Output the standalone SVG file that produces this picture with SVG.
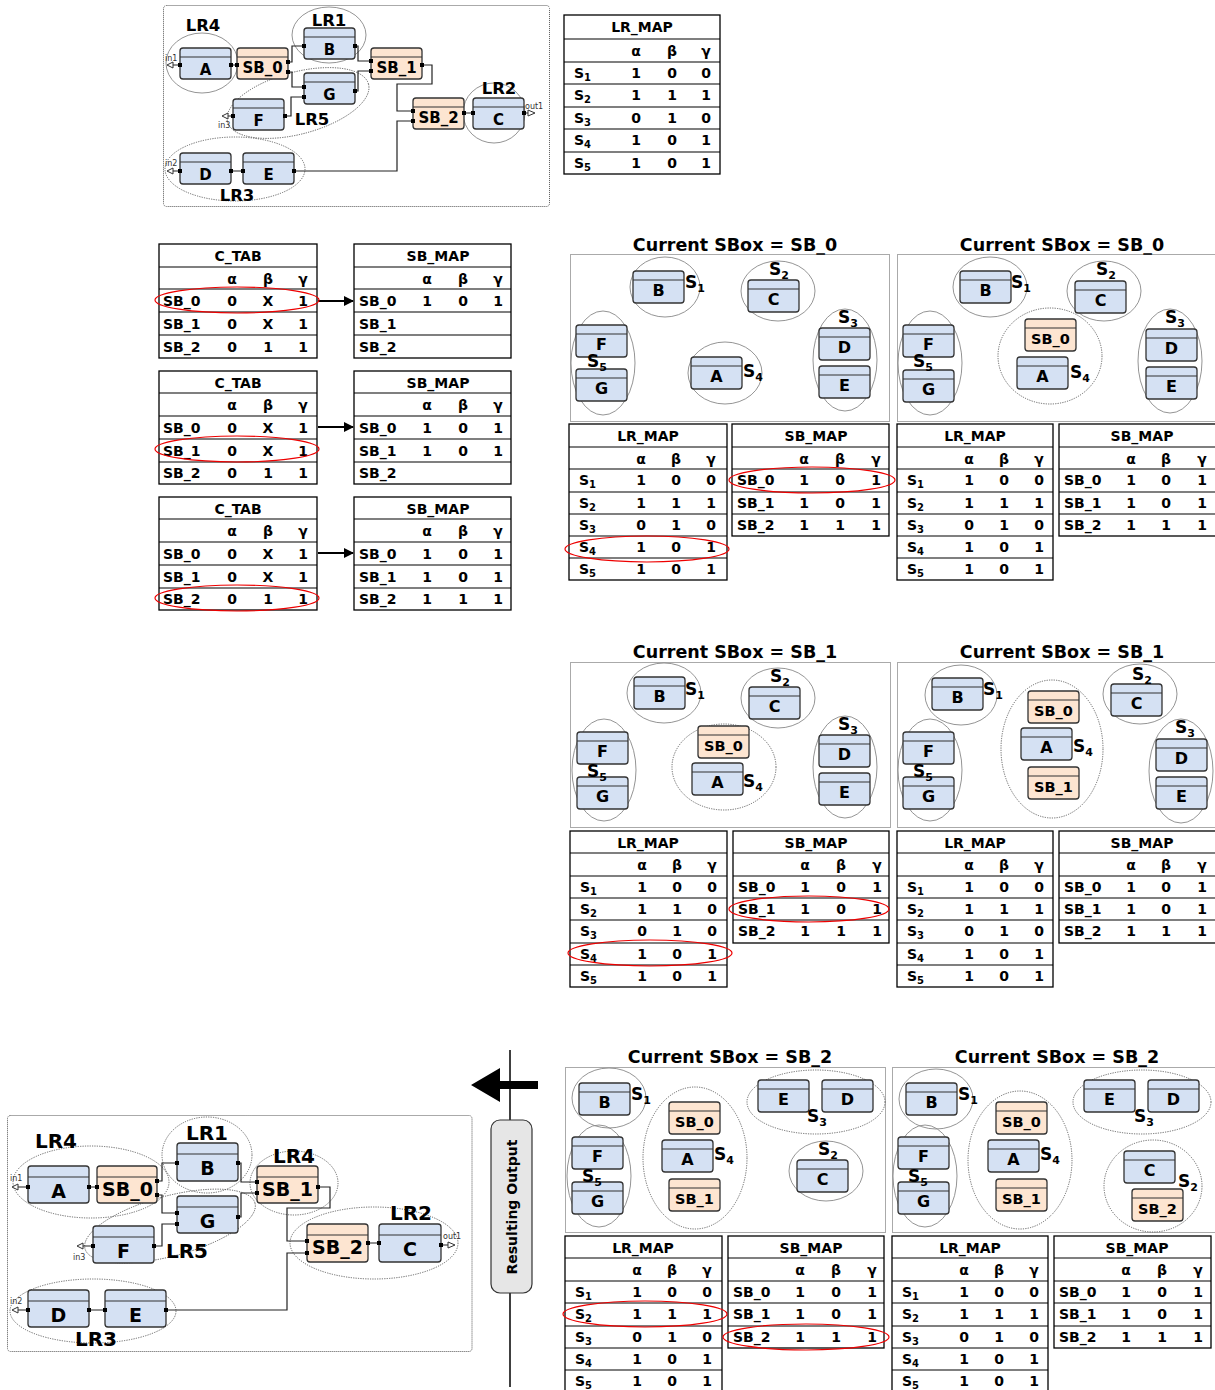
<svg xmlns="http://www.w3.org/2000/svg" width="1215" height="1390" viewBox="0 0 1215 1390">
<style>
text{font-family:"DejaVu Sans","Liberation Sans",sans-serif;font-weight:bold;fill:#000}
.tt{font-size:14px;text-anchor:middle}
.tc{font-size:14px;text-anchor:middle}
.ts{font-size:14px}
.sub{font-size:10px}
.ptl{font-size:17.5px;text-anchor:middle}
.sl{font-size:17px}
.slb{font-size:11px}
.nl{font-size:16px;text-anchor:middle}
.nls{font-size:14.5px;text-anchor:middle}
.nt{font-size:15px;text-anchor:middle}
.nbig{font-size:19px;text-anchor:middle}
.lr{font-size:16.5px;text-anchor:middle}
.lrb{font-size:20px;text-anchor:middle}
.tb{fill:#fff;stroke:#000;stroke-width:1.3}
.tl{fill:none;stroke:#000;stroke-width:1.1}
.nb{fill:#d5e1f3;stroke:#333;stroke-width:1.3}
.no{fill:#fde5d1;stroke:#333;stroke-width:1.3}
.hl{stroke:#333;stroke-width:1.2}
.el{fill:none;stroke:#888;stroke-width:0.9}
.eld{fill:none;stroke:#555;stroke-width:0.9;stroke-dasharray:1.2 1.2}
.red{fill:none;stroke:#e00;stroke-width:1.2}
.fr{fill:none;stroke:#555;stroke-width:1;stroke-dasharray:1 1}
.w{fill:none;stroke:#222;stroke-width:1.2}
.pp{fill:#000}
.io{fill:#fff;stroke:#333;stroke-width:1}
.iot{font-size:8px;font-weight:normal;fill:#333}
.arr{stroke:#000;stroke-width:2;fill:none}
</style>
<defs>
<marker id="ah" markerWidth="10" markerHeight="10" refX="9" refY="5" orient="auto" markerUnits="userSpaceOnUse"><path d="M0,0 L10,5 L0,10 z" fill="#000"/></marker>
</defs>

<!-- ================= TOP CIRCUIT ================= -->
<g id="top-circuit">
<rect class="fr" x="163.5" y="5.5" width="386" height="201" rx="3"/>
<ellipse class="el" cx="202" cy="63" rx="36" ry="30"/>
<ellipse class="el" cx="329" cy="35" rx="37" ry="28"/>
<ellipse class="eld" cx="298" cy="103" rx="73" ry="31" transform="rotate(-15 298 103)"/>
<ellipse class="el" cx="494" cy="113" rx="31" ry="30"/>
<ellipse class="eld" cx="235" cy="169" rx="70" ry="32"/>
<g id="top-connectors">
<path class="w" d="M231 65 H237 M288 62 H292 V46 H304 M288 72 H292 V87 H304 M285 116 H291 V97 H304 M355 46 H358 V61 H371 M355 91 H358 V71 H371 M422 65 H432 V84 H397 V111 H413 M295 171 H397 V121 H413 M464 113 H473 M231 171 H243 M180 65 H173 M233 116 H228 M180 171 H173 M524 113 H528"/>
<polygon class="io" points="173,62 173,68 167,65"/>
<polygon class="io" points="228,113 228,119 222,116"/>
<polygon class="io" points="173,168 173,174 167,171"/>
<polygon class="io" points="528,110 528,116 535,113"/>
<text class="iot" x="165" y="61">in1</text>
<text class="iot" x="218" y="128">in3</text>
<text class="iot" x="165" y="166">in2</text>
<text class="iot" x="525" y="109">out1</text>
</g>
<g id="t-A"><rect class="nb" x="180" y="48" width="51" height="31" rx="3"/><line class="hl" x1="180" y1="57" x2="231" y2="57"/><text class="nt" x="205.5" y="75">A</text></g>
<g id="t-SB0"><rect class="no" x="237" y="48" width="51" height="31" rx="3"/><line class="hl" x1="237" y1="57" x2="288" y2="57"/><text class="nt" x="262.5" y="73">SB_0</text></g>
<g id="t-B"><rect class="nb" x="304" y="28" width="51" height="31" rx="3"/><line class="hl" x1="304" y1="37" x2="355" y2="37"/><text class="nt" x="329.5" y="55">B</text></g>
<g id="t-G"><rect class="nb" x="304" y="73" width="51" height="31" rx="3"/><line class="hl" x1="304" y1="82" x2="355" y2="82"/><text class="nt" x="329.5" y="100">G</text></g>
<g id="t-SB1"><rect class="no" x="371" y="48" width="51" height="31" rx="3"/><line class="hl" x1="371" y1="57" x2="422" y2="57"/><text class="nt" x="396.5" y="73">SB_1</text></g>
<g id="t-F"><rect class="nb" x="233" y="99" width="51" height="31" rx="3"/><line class="hl" x1="233" y1="108" x2="284" y2="108"/><text class="nt" x="258.5" y="126">F</text></g>
<g id="t-SB2"><rect class="no" x="413" y="98" width="51" height="31" rx="3"/><line class="hl" x1="413" y1="107" x2="464" y2="107"/><text class="nt" x="438.5" y="123">SB_2</text></g>
<g id="t-C"><rect class="nb" x="473" y="98" width="51" height="31" rx="3"/><line class="hl" x1="473" y1="107" x2="524" y2="107"/><text class="nt" x="498.5" y="125">C</text></g>
<g id="t-D"><rect class="nb" x="180" y="153" width="51" height="31" rx="3"/><line class="hl" x1="180" y1="162" x2="231" y2="162"/><text class="nt" x="205.5" y="180">D</text></g>
<g id="t-E"><rect class="nb" x="243" y="153" width="51" height="31" rx="3"/><line class="hl" x1="243" y1="162" x2="294" y2="162"/><text class="nt" x="268.5" y="180">E</text></g>
<g id="t-ports">
<rect class="pp" x="178" y="63" width="4" height="4"/><rect class="pp" x="229" y="63" width="4" height="4"/><rect class="pp" x="235" y="63" width="4" height="4"/>
<rect class="pp" x="286" y="60" width="4" height="4"/><rect class="pp" x="286" y="70" width="4" height="4"/>
<rect class="pp" x="302" y="44" width="4" height="4"/><rect class="pp" x="353" y="44" width="4" height="4"/>
<rect class="pp" x="302" y="85" width="4" height="4"/><rect class="pp" x="302" y="95" width="4" height="4"/><rect class="pp" x="353" y="89" width="4" height="4"/>
<rect class="pp" x="231" y="114" width="4" height="4"/><rect class="pp" x="283" y="114" width="4" height="4"/>
<rect class="pp" x="369" y="59" width="4" height="4"/><rect class="pp" x="369" y="69" width="4" height="4"/><rect class="pp" x="420" y="63" width="4" height="4"/>
<rect class="pp" x="411" y="109" width="4" height="4"/><rect class="pp" x="411" y="119" width="4" height="4"/><rect class="pp" x="462" y="111" width="4" height="4"/>
<rect class="pp" x="471" y="111" width="4" height="4"/><rect class="pp" x="522" y="111" width="4" height="4"/>
<rect class="pp" x="178" y="169" width="4" height="4"/><rect class="pp" x="229" y="169" width="4" height="4"/><rect class="pp" x="241" y="169" width="4" height="4"/><rect class="pp" x="292" y="169" width="4" height="4"/>
</g>
<text class="lr" x="203" y="31">LR4</text>
<text class="lr" x="329" y="26">LR1</text>
<text class="lr" x="312" y="125">LR5</text>
<text class="lr" x="499" y="94">LR2</text>
<text class="lr" x="237" y="201">LR3</text>
</g>

<!-- ================= TOP LR_MAP ================= -->
<g id="top-lrmap">
<rect class="tb" x="564" y="15" width="156" height="159"/>
<path class="tl" d="M564 39 H720 M564 62 H720 M564 84 H720 M564 107 H720 M564 129 H720 M564 152 H720"/>
<text class="tt" x="642" y="32">LR_MAP</text>
<text class="tc" x="636" y="56">α</text><text class="tc" x="672" y="56">β</text><text class="tc" x="706" y="56">γ</text>
<text class="ts" x="574" y="78">S<tspan class="sub" dy="3">1</tspan></text><text class="tc" x="636" y="78">1</text><text class="tc" x="672" y="78">0</text><text class="tc" x="706" y="78">0</text>
<text class="ts" x="574" y="100">S<tspan class="sub" dy="3">2</tspan></text><text class="tc" x="636" y="100">1</text><text class="tc" x="672" y="100">1</text><text class="tc" x="706" y="100">1</text>
<text class="ts" x="574" y="123">S<tspan class="sub" dy="3">3</tspan></text><text class="tc" x="636" y="123">0</text><text class="tc" x="672" y="123">1</text><text class="tc" x="706" y="123">0</text>
<text class="ts" x="574" y="145">S<tspan class="sub" dy="3">4</tspan></text><text class="tc" x="636" y="145">1</text><text class="tc" x="672" y="145">0</text><text class="tc" x="706" y="145">1</text>
<text class="ts" x="574" y="168">S<tspan class="sub" dy="3">5</tspan></text><text class="tc" x="636" y="168">1</text><text class="tc" x="672" y="168">0</text><text class="tc" x="706" y="168">1</text>
</g>

<!-- ================= C_TAB / SB_MAP ================= -->
<g id="ctab1">
<rect class="tb" x="159" y="244" width="158" height="114"/>
<path class="tl" d="M159 267 H317 M159 289 H317 M159 312 H317 M159 335 H317"/>
<text class="tt" x="238" y="261">C_TAB</text>
<text class="tc" x="232" y="284">α</text><text class="tc" x="268" y="284">β</text><text class="tc" x="303" y="284">γ</text>
<text class="ts" x="163" y="306">SB_0</text><text class="tc" x="232" y="306">0</text><text class="tc" x="268" y="306">X</text><text class="tc" x="303" y="306">1</text>
<text class="ts" x="163" y="329">SB_1</text><text class="tc" x="232" y="329">0</text><text class="tc" x="268" y="329">X</text><text class="tc" x="303" y="329">1</text>
<text class="ts" x="163" y="352">SB_2</text><text class="tc" x="232" y="352">0</text><text class="tc" x="268" y="352">1</text><text class="tc" x="303" y="352">1</text>
</g>
<g id="sbmap1">
<rect class="tb" x="354" y="244" width="157" height="114"/>
<path class="tl" d="M354 267 H511 M354 289 H511 M354 312 H511 M354 335 H511"/>
<text class="tt" x="438" y="261">SB_MAP</text>
<text class="tc" x="427" y="284">α</text><text class="tc" x="463" y="284">β</text><text class="tc" x="498" y="284">γ</text>
<text class="ts" x="359" y="306">SB_0</text><text class="tc" x="427" y="306">1</text><text class="tc" x="463" y="306">0</text><text class="tc" x="498" y="306">1</text>
<text class="ts" x="359" y="329">SB_1</text>
<text class="ts" x="359" y="352">SB_2</text>
</g>
<g id="ctab2">
<rect class="tb" x="159" y="371" width="158" height="113"/>
<path class="tl" d="M159 393 H317 M159 416 H317 M159 439 H317 M159 462 H317"/>
<text class="tt" x="238" y="388">C_TAB</text>
<text class="tc" x="232" y="410">α</text><text class="tc" x="268" y="410">β</text><text class="tc" x="303" y="410">γ</text>
<text class="ts" x="163" y="433">SB_0</text><text class="tc" x="232" y="433">0</text><text class="tc" x="268" y="433">X</text><text class="tc" x="303" y="433">1</text>
<text class="ts" x="163" y="456">SB_1</text><text class="tc" x="232" y="456">0</text><text class="tc" x="268" y="456">X</text><text class="tc" x="303" y="456">1</text>
<text class="ts" x="163" y="478">SB_2</text><text class="tc" x="232" y="478">0</text><text class="tc" x="268" y="478">1</text><text class="tc" x="303" y="478">1</text>
</g>
<g id="sbmap2">
<rect class="tb" x="354" y="371" width="157" height="113"/>
<path class="tl" d="M354 393 H511 M354 416 H511 M354 439 H511 M354 462 H511"/>
<text class="tt" x="438" y="388">SB_MAP</text>
<text class="tc" x="427" y="410">α</text><text class="tc" x="463" y="410">β</text><text class="tc" x="498" y="410">γ</text>
<text class="ts" x="359" y="433">SB_0</text><text class="tc" x="427" y="433">1</text><text class="tc" x="463" y="433">0</text><text class="tc" x="498" y="433">1</text>
<text class="ts" x="359" y="456">SB_1</text><text class="tc" x="427" y="456">1</text><text class="tc" x="463" y="456">0</text><text class="tc" x="498" y="456">1</text>
<text class="ts" x="359" y="478">SB_2</text>
</g>
<g id="ctab3">
<rect class="tb" x="159" y="497" width="158" height="113"/>
<path class="tl" d="M159 519 H317 M159 542 H317 M159 565 H317 M159 588 H317"/>
<text class="tt" x="238" y="514">C_TAB</text>
<text class="tc" x="232" y="536">α</text><text class="tc" x="268" y="536">β</text><text class="tc" x="303" y="536">γ</text>
<text class="ts" x="163" y="559">SB_0</text><text class="tc" x="232" y="559">0</text><text class="tc" x="268" y="559">X</text><text class="tc" x="303" y="559">1</text>
<text class="ts" x="163" y="582">SB_1</text><text class="tc" x="232" y="582">0</text><text class="tc" x="268" y="582">X</text><text class="tc" x="303" y="582">1</text>
<text class="ts" x="163" y="604">SB_2</text><text class="tc" x="232" y="604">0</text><text class="tc" x="268" y="604">1</text><text class="tc" x="303" y="604">1</text>
</g>
<g id="sbmap3">
<rect class="tb" x="354" y="497" width="157" height="113"/>
<path class="tl" d="M354 519 H511 M354 542 H511 M354 565 H511 M354 588 H511"/>
<text class="tt" x="438" y="514">SB_MAP</text>
<text class="tc" x="427" y="536">α</text><text class="tc" x="463" y="536">β</text><text class="tc" x="498" y="536">γ</text>
<text class="ts" x="359" y="559">SB_0</text><text class="tc" x="427" y="559">1</text><text class="tc" x="463" y="559">0</text><text class="tc" x="498" y="559">1</text>
<text class="ts" x="359" y="582">SB_1</text><text class="tc" x="427" y="582">1</text><text class="tc" x="463" y="582">0</text><text class="tc" x="498" y="582">1</text>
<text class="ts" x="359" y="604">SB_2</text><text class="tc" x="427" y="604">1</text><text class="tc" x="463" y="604">1</text><text class="tc" x="498" y="604">1</text>
</g>
<g id="ctab-connectors">
<line class="arr" x1="318" y1="301" x2="353" y2="301" marker-end="url(#ah)"/>
<line class="arr" x1="318" y1="427" x2="353" y2="427" marker-end="url(#ah)"/>
<line class="arr" x1="318" y1="553" x2="353" y2="553" marker-end="url(#ah)"/>
</g>
<ellipse class="red" cx="237" cy="300" rx="82" ry="13"/>
<ellipse class="red" cx="237" cy="449" rx="82" ry="13"/>
<ellipse class="red" cx="237" cy="598" rx="82" ry="13"/>

<!-- ================= PANEL 1 ================= -->
<g id="panel1">
<text class="ptl" x="735" y="251">Current SBox = SB_0</text>
<rect class="fr" x="570.5" y="254.5" width="319" height="167"/>
<ellipse class="el" cx="665" cy="287" rx="35" ry="30"/>
<ellipse class="el" cx="778" cy="291" rx="37" ry="30"/>
<ellipse class="el" cx="845" cy="360" rx="32" ry="51"/>
<ellipse class="el" cx="603" cy="363" rx="32" ry="52"/>
<ellipse class="el" cx="725" cy="373" rx="37" ry="31"/>
<g id="p1-B"><rect class="nb" x="633" y="271" width="51" height="32" rx="3"/><line class="hl" x1="633" y1="280" x2="684" y2="280"/><text class="nl" x="658.5" y="296">B</text></g>
<g id="p1-C"><rect class="nb" x="748" y="280" width="51" height="32" rx="3"/><line class="hl" x1="748" y1="289" x2="799" y2="289"/><text class="nl" x="773.5" y="305">C</text></g>
<g id="p1-D"><rect class="nb" x="819" y="328" width="51" height="32" rx="3"/><line class="hl" x1="819" y1="337" x2="870" y2="337"/><text class="nl" x="844.5" y="353">D</text></g>
<g id="p1-E"><rect class="nb" x="819" y="366" width="51" height="32" rx="3"/><line class="hl" x1="819" y1="375" x2="870" y2="375"/><text class="nl" x="844.5" y="391">E</text></g>
<g id="p1-F"><rect class="nb" x="576" y="325" width="51" height="32" rx="3"/><line class="hl" x1="576" y1="334" x2="627" y2="334"/><text class="nl" x="601.5" y="350">F</text></g>
<g id="p1-G"><rect class="nb" x="576" y="369" width="51" height="32" rx="3"/><line class="hl" x1="576" y1="378" x2="627" y2="378"/><text class="nl" x="601.5" y="394">G</text></g>
<g id="p1-A"><rect class="nb" x="691" y="357" width="51" height="32" rx="3"/><line class="hl" x1="691" y1="366" x2="742" y2="366"/><text class="nl" x="716.5" y="382">A</text></g>
<text class="sl" x="685" y="288">S<tspan class="slb" dy="4">1</tspan></text>
<text class="sl" x="769" y="275">S<tspan class="slb" dy="4">2</tspan></text>
<text class="sl" x="838" y="323">S<tspan class="slb" dy="4">3</tspan></text>
<text class="sl" x="743" y="377">S<tspan class="slb" dy="4">4</tspan></text>
<text class="sl" x="587" y="367">S<tspan class="slb" dy="4">5</tspan></text>
<g id="p1-lrmap">
<rect class="tb" x="569" y="424" width="158" height="156"/>
<path class="tl" d="M569 447 H727 M569 469 H727 M569 492 H727 M569 514 H727 M569 536 H727 M569 558 H727"/>
<text class="tt" x="648" y="441">LR_MAP</text>
<text class="tc" x="641" y="464">α</text><text class="tc" x="676" y="464">β</text><text class="tc" x="711" y="464">γ</text>
<text class="ts" x="579" y="485">S<tspan class="sub" dy="3">1</tspan></text><text class="tc" x="641" y="485">1</text><text class="tc" x="676" y="485">0</text><text class="tc" x="711" y="485">0</text>
<text class="ts" x="579" y="508">S<tspan class="sub" dy="3">2</tspan></text><text class="tc" x="641" y="508">1</text><text class="tc" x="676" y="508">1</text><text class="tc" x="711" y="508">1</text>
<text class="ts" x="579" y="530">S<tspan class="sub" dy="3">3</tspan></text><text class="tc" x="641" y="530">0</text><text class="tc" x="676" y="530">1</text><text class="tc" x="711" y="530">0</text>
<text class="ts" x="579" y="552">S<tspan class="sub" dy="3">4</tspan></text><text class="tc" x="641" y="552">1</text><text class="tc" x="676" y="552">0</text><text class="tc" x="711" y="552">1</text>
<text class="ts" x="579" y="574">S<tspan class="sub" dy="3">5</tspan></text><text class="tc" x="641" y="574">1</text><text class="tc" x="676" y="574">0</text><text class="tc" x="711" y="574">1</text>
</g>
<g id="p1-sbmap">
<rect class="tb" x="732" y="424" width="157" height="112"/>
<path class="tl" d="M732 447 H889 M732 469 H889 M732 492 H889 M732 514 H889"/>
<text class="tt" x="816" y="441">SB_MAP</text>
<text class="tc" x="804" y="464">α</text><text class="tc" x="840" y="464">β</text><text class="tc" x="876" y="464">γ</text>
<text class="ts" x="737" y="485">SB_0</text><text class="tc" x="804" y="485">1</text><text class="tc" x="840" y="485">0</text><text class="tc" x="876" y="485">1</text>
<text class="ts" x="737" y="508">SB_1</text><text class="tc" x="804" y="508">1</text><text class="tc" x="840" y="508">0</text><text class="tc" x="876" y="508">1</text>
<text class="ts" x="737" y="530">SB_2</text><text class="tc" x="804" y="530">1</text><text class="tc" x="840" y="530">1</text><text class="tc" x="876" y="530">1</text>
</g>
<ellipse class="red" cx="647" cy="549" rx="82" ry="13"/>
<ellipse class="red" cx="812" cy="480" rx="83" ry="13"/>
</g>

<!-- ================= PANEL 2 ================= -->
<g id="panel2">
<text class="ptl" x="1062" y="251">Current SBox = SB_0</text>
<rect class="fr" x="897.5" y="254.5" width="330" height="167"/>
<ellipse class="el" cx="990" cy="287" rx="37" ry="30"/>
<ellipse class="el" cx="1104" cy="291" rx="37" ry="30"/>
<ellipse class="eld" cx="1050" cy="356" rx="52" ry="48"/>
<ellipse class="el" cx="1170" cy="361" rx="32" ry="52"/>
<ellipse class="el" cx="930" cy="363" rx="32" ry="52"/>
<g id="p2-B"><rect class="nb" x="960" y="271" width="51" height="32" rx="3"/><line class="hl" x1="960" y1="280" x2="1011" y2="280"/><text class="nl" x="985.5" y="296">B</text></g>
<g id="p2-C"><rect class="nb" x="1075" y="281" width="51" height="32" rx="3"/><line class="hl" x1="1075" y1="290" x2="1126" y2="290"/><text class="nl" x="1100.5" y="306">C</text></g>
<g id="p2-SB0"><rect class="no" x="1025" y="319" width="51" height="32" rx="3"/><line class="hl" x1="1025" y1="328" x2="1076" y2="328"/><text class="nls" x="1050.5" y="344">SB_0</text></g>
<g id="p2-A"><rect class="nb" x="1017" y="357" width="51" height="32" rx="3"/><line class="hl" x1="1017" y1="366" x2="1068" y2="366"/><text class="nl" x="1042.5" y="382">A</text></g>
<g id="p2-D"><rect class="nb" x="1146" y="329" width="51" height="32" rx="3"/><line class="hl" x1="1146" y1="338" x2="1197" y2="338"/><text class="nl" x="1171.5" y="354">D</text></g>
<g id="p2-E"><rect class="nb" x="1146" y="367" width="51" height="32" rx="3"/><line class="hl" x1="1146" y1="376" x2="1197" y2="376"/><text class="nl" x="1171.5" y="392">E</text></g>
<g id="p2-F"><rect class="nb" x="903" y="325" width="51" height="32" rx="3"/><line class="hl" x1="903" y1="334" x2="954" y2="334"/><text class="nl" x="928.5" y="350">F</text></g>
<g id="p2-G"><rect class="nb" x="903" y="370" width="51" height="32" rx="3"/><line class="hl" x1="903" y1="379" x2="954" y2="379"/><text class="nl" x="928.5" y="395">G</text></g>
<text class="sl" x="1011" y="288">S<tspan class="slb" dy="4">1</tspan></text>
<text class="sl" x="1096" y="275">S<tspan class="slb" dy="4">2</tspan></text>
<text class="sl" x="1165" y="323">S<tspan class="slb" dy="4">3</tspan></text>
<text class="sl" x="1070" y="378">S<tspan class="slb" dy="4">4</tspan></text>
<text class="sl" x="913" y="367">S<tspan class="slb" dy="4">5</tspan></text>
<g id="p2-lrmap">
<rect class="tb" x="897" y="424" width="156" height="156"/>
<path class="tl" d="M897 447 H1053 M897 469 H1053 M897 492 H1053 M897 514 H1053 M897 536 H1053 M897 558 H1053"/>
<text class="tt" x="975" y="441">LR_MAP</text>
<text class="tc" x="969" y="464">α</text><text class="tc" x="1004" y="464">β</text><text class="tc" x="1039" y="464">γ</text>
<text class="ts" x="907" y="485">S<tspan class="sub" dy="3">1</tspan></text><text class="tc" x="969" y="485">1</text><text class="tc" x="1004" y="485">0</text><text class="tc" x="1039" y="485">0</text>
<text class="ts" x="907" y="508">S<tspan class="sub" dy="3">2</tspan></text><text class="tc" x="969" y="508">1</text><text class="tc" x="1004" y="508">1</text><text class="tc" x="1039" y="508">1</text>
<text class="ts" x="907" y="530">S<tspan class="sub" dy="3">3</tspan></text><text class="tc" x="969" y="530">0</text><text class="tc" x="1004" y="530">1</text><text class="tc" x="1039" y="530">0</text>
<text class="ts" x="907" y="552">S<tspan class="sub" dy="3">4</tspan></text><text class="tc" x="969" y="552">1</text><text class="tc" x="1004" y="552">0</text><text class="tc" x="1039" y="552">1</text>
<text class="ts" x="907" y="574">S<tspan class="sub" dy="3">5</tspan></text><text class="tc" x="969" y="574">1</text><text class="tc" x="1004" y="574">0</text><text class="tc" x="1039" y="574">1</text>
</g>
<g id="p2-sbmap">
<rect class="tb" x="1059" y="424" width="163" height="112"/>
<path class="tl" d="M1059 447 H1222 M1059 469 H1222 M1059 492 H1222 M1059 514 H1222"/>
<text class="tt" x="1142" y="441">SB_MAP</text>
<text class="tc" x="1131" y="464">α</text><text class="tc" x="1166" y="464">β</text><text class="tc" x="1202" y="464">γ</text>
<text class="ts" x="1064" y="485">SB_0</text><text class="tc" x="1131" y="485">1</text><text class="tc" x="1166" y="485">0</text><text class="tc" x="1202" y="485">1</text>
<text class="ts" x="1064" y="508">SB_1</text><text class="tc" x="1131" y="508">1</text><text class="tc" x="1166" y="508">0</text><text class="tc" x="1202" y="508">1</text>
<text class="ts" x="1064" y="530">SB_2</text><text class="tc" x="1131" y="530">1</text><text class="tc" x="1166" y="530">1</text><text class="tc" x="1202" y="530">1</text>
</g>
</g>

<!-- ================= PANEL 3 ================= -->
<g id="panel3">
<text class="ptl" x="735" y="658">Current SBox = SB_1</text>
<rect class="fr" x="570.5" y="662.5" width="320" height="165"/>
<ellipse class="el" cx="664" cy="693" rx="37" ry="30"/>
<ellipse class="el" cx="778" cy="698" rx="37" ry="30"/>
<ellipse class="eld" cx="724" cy="767" rx="52" ry="43"/>
<ellipse class="el" cx="845" cy="767" rx="32" ry="51"/>
<ellipse class="el" cx="604" cy="770" rx="32" ry="51"/>
<g id="p3-B"><rect class="nb" x="634" y="677" width="51" height="32" rx="3"/><line class="hl" x1="634" y1="686" x2="685" y2="686"/><text class="nl" x="659.5" y="702">B</text></g>
<g id="p3-C"><rect class="nb" x="749" y="687" width="51" height="32" rx="3"/><line class="hl" x1="749" y1="696" x2="800" y2="696"/><text class="nl" x="774.5" y="712">C</text></g>
<g id="p3-SB0"><rect class="no" x="698" y="726" width="51" height="32" rx="3"/><line class="hl" x1="698" y1="735" x2="749" y2="735"/><text class="nls" x="723.5" y="751">SB_0</text></g>
<g id="p3-A"><rect class="nb" x="692" y="763" width="51" height="32" rx="3"/><line class="hl" x1="692" y1="772" x2="743" y2="772"/><text class="nl" x="717.5" y="788">A</text></g>
<g id="p3-D"><rect class="nb" x="819" y="735" width="51" height="32" rx="3"/><line class="hl" x1="819" y1="744" x2="870" y2="744"/><text class="nl" x="844.5" y="760">D</text></g>
<g id="p3-E"><rect class="nb" x="819" y="773" width="51" height="32" rx="3"/><line class="hl" x1="819" y1="782" x2="870" y2="782"/><text class="nl" x="844.5" y="798">E</text></g>
<g id="p3-F"><rect class="nb" x="577" y="732" width="51" height="32" rx="3"/><line class="hl" x1="577" y1="741" x2="628" y2="741"/><text class="nl" x="602.5" y="757">F</text></g>
<g id="p3-G"><rect class="nb" x="577" y="777" width="51" height="32" rx="3"/><line class="hl" x1="577" y1="786" x2="628" y2="786"/><text class="nl" x="602.5" y="802">G</text></g>
<text class="sl" x="685" y="695">S<tspan class="slb" dy="4">1</tspan></text>
<text class="sl" x="770" y="682">S<tspan class="slb" dy="4">2</tspan></text>
<text class="sl" x="838" y="730">S<tspan class="slb" dy="4">3</tspan></text>
<text class="sl" x="743" y="787">S<tspan class="slb" dy="4">4</tspan></text>
<text class="sl" x="587" y="777">S<tspan class="slb" dy="4">5</tspan></text>
<g id="p3-lrmap">
<rect class="tb" x="570" y="831" width="157" height="156"/>
<path class="tl" d="M570 853 H727 M570 876 H727 M570 898 H727 M570 920 H727 M570 943 H727 M570 965 H727"/>
<text class="tt" x="648" y="848">LR_MAP</text>
<text class="tc" x="642" y="870">α</text><text class="tc" x="677" y="870">β</text><text class="tc" x="712" y="870">γ</text>
<text class="ts" x="580" y="892">S<tspan class="sub" dy="3">1</tspan></text><text class="tc" x="642" y="892">1</text><text class="tc" x="677" y="892">0</text><text class="tc" x="712" y="892">0</text>
<text class="ts" x="580" y="914">S<tspan class="sub" dy="3">2</tspan></text><text class="tc" x="642" y="914">1</text><text class="tc" x="677" y="914">1</text><text class="tc" x="712" y="914">0</text>
<text class="ts" x="580" y="936">S<tspan class="sub" dy="3">3</tspan></text><text class="tc" x="642" y="936">0</text><text class="tc" x="677" y="936">1</text><text class="tc" x="712" y="936">0</text>
<text class="ts" x="580" y="959">S<tspan class="sub" dy="3">4</tspan></text><text class="tc" x="642" y="959">1</text><text class="tc" x="677" y="959">0</text><text class="tc" x="712" y="959">1</text>
<text class="ts" x="580" y="981">S<tspan class="sub" dy="3">5</tspan></text><text class="tc" x="642" y="981">1</text><text class="tc" x="677" y="981">0</text><text class="tc" x="712" y="981">1</text>
</g>
<g id="p3-sbmap">
<rect class="tb" x="733" y="831" width="156" height="112"/>
<path class="tl" d="M733 853 H889 M733 876 H889 M733 898 H889 M733 920 H889"/>
<text class="tt" x="816" y="848">SB_MAP</text>
<text class="tc" x="805" y="870">α</text><text class="tc" x="841" y="870">β</text><text class="tc" x="877" y="870">γ</text>
<text class="ts" x="738" y="892">SB_0</text><text class="tc" x="805" y="892">1</text><text class="tc" x="841" y="892">0</text><text class="tc" x="877" y="892">1</text>
<text class="ts" x="738" y="914">SB_1</text><text class="tc" x="805" y="914">1</text><text class="tc" x="841" y="914">0</text><text class="tc" x="877" y="914">1</text>
<text class="ts" x="738" y="936">SB_2</text><text class="tc" x="805" y="936">1</text><text class="tc" x="841" y="936">1</text><text class="tc" x="877" y="936">1</text>
</g>
<ellipse class="red" cx="650" cy="953" rx="82" ry="13"/>
<ellipse class="red" cx="809" cy="909" rx="80" ry="13"/>
</g>

<!-- ================= PANEL 4 ================= -->
<g id="panel4">
<text class="ptl" x="1062" y="658">Current SBox = SB_1</text>
<rect class="fr" x="897.5" y="662.5" width="330" height="165"/>
<ellipse class="el" cx="961" cy="695" rx="36" ry="30"/>
<ellipse class="el" cx="1140" cy="694" rx="37" ry="30"/>
<ellipse class="eld" cx="1052" cy="749" rx="51" ry="69"/>
<ellipse class="el" cx="1181" cy="771" rx="32" ry="52"/>
<ellipse class="el" cx="930" cy="770" rx="32" ry="51"/>
<g id="p4-B"><rect class="nb" x="932" y="678" width="51" height="32" rx="3"/><line class="hl" x1="932" y1="687" x2="983" y2="687"/><text class="nl" x="957.5" y="703">B</text></g>
<g id="p4-C"><rect class="nb" x="1111" y="684" width="51" height="32" rx="3"/><line class="hl" x1="1111" y1="693" x2="1162" y2="693"/><text class="nl" x="1136.5" y="709">C</text></g>
<g id="p4-SB0"><rect class="no" x="1028" y="691" width="51" height="32" rx="3"/><line class="hl" x1="1028" y1="700" x2="1079" y2="700"/><text class="nls" x="1053.5" y="716">SB_0</text></g>
<g id="p4-A"><rect class="nb" x="1021" y="728" width="51" height="32" rx="3"/><line class="hl" x1="1021" y1="737" x2="1072" y2="737"/><text class="nl" x="1046.5" y="753">A</text></g>
<g id="p4-SB1"><rect class="no" x="1028" y="767" width="51" height="32" rx="3"/><line class="hl" x1="1028" y1="776" x2="1079" y2="776"/><text class="nls" x="1053.5" y="792">SB_1</text></g>
<g id="p4-D"><rect class="nb" x="1156" y="739" width="51" height="32" rx="3"/><line class="hl" x1="1156" y1="748" x2="1207" y2="748"/><text class="nl" x="1181.5" y="764">D</text></g>
<g id="p4-E"><rect class="nb" x="1156" y="777" width="51" height="32" rx="3"/><line class="hl" x1="1156" y1="786" x2="1207" y2="786"/><text class="nl" x="1181.5" y="802">E</text></g>
<g id="p4-F"><rect class="nb" x="903" y="732" width="51" height="32" rx="3"/><line class="hl" x1="903" y1="741" x2="954" y2="741"/><text class="nl" x="928.5" y="757">F</text></g>
<g id="p4-G"><rect class="nb" x="903" y="777" width="51" height="32" rx="3"/><line class="hl" x1="903" y1="786" x2="954" y2="786"/><text class="nl" x="928.5" y="802">G</text></g>
<text class="sl" x="983" y="695">S<tspan class="slb" dy="4">1</tspan></text>
<text class="sl" x="1132" y="680">S<tspan class="slb" dy="4">2</tspan></text>
<text class="sl" x="1175" y="733">S<tspan class="slb" dy="4">3</tspan></text>
<text class="sl" x="1073" y="752">S<tspan class="slb" dy="4">4</tspan></text>
<text class="sl" x="913" y="777">S<tspan class="slb" dy="4">5</tspan></text>
<g id="p4-lrmap">
<rect class="tb" x="897" y="831" width="156" height="156"/>
<path class="tl" d="M897 853 H1053 M897 876 H1053 M897 898 H1053 M897 920 H1053 M897 943 H1053 M897 965 H1053"/>
<text class="tt" x="975" y="848">LR_MAP</text>
<text class="tc" x="969" y="870">α</text><text class="tc" x="1004" y="870">β</text><text class="tc" x="1039" y="870">γ</text>
<text class="ts" x="907" y="892">S<tspan class="sub" dy="3">1</tspan></text><text class="tc" x="969" y="892">1</text><text class="tc" x="1004" y="892">0</text><text class="tc" x="1039" y="892">0</text>
<text class="ts" x="907" y="914">S<tspan class="sub" dy="3">2</tspan></text><text class="tc" x="969" y="914">1</text><text class="tc" x="1004" y="914">1</text><text class="tc" x="1039" y="914">1</text>
<text class="ts" x="907" y="936">S<tspan class="sub" dy="3">3</tspan></text><text class="tc" x="969" y="936">0</text><text class="tc" x="1004" y="936">1</text><text class="tc" x="1039" y="936">0</text>
<text class="ts" x="907" y="959">S<tspan class="sub" dy="3">4</tspan></text><text class="tc" x="969" y="959">1</text><text class="tc" x="1004" y="959">0</text><text class="tc" x="1039" y="959">1</text>
<text class="ts" x="907" y="981">S<tspan class="sub" dy="3">5</tspan></text><text class="tc" x="969" y="981">1</text><text class="tc" x="1004" y="981">0</text><text class="tc" x="1039" y="981">1</text>
</g>
<g id="p4-sbmap">
<rect class="tb" x="1059" y="831" width="163" height="112"/>
<path class="tl" d="M1059 853 H1222 M1059 876 H1222 M1059 898 H1222 M1059 920 H1222"/>
<text class="tt" x="1142" y="848">SB_MAP</text>
<text class="tc" x="1131" y="870">α</text><text class="tc" x="1166" y="870">β</text><text class="tc" x="1202" y="870">γ</text>
<text class="ts" x="1064" y="892">SB_0</text><text class="tc" x="1131" y="892">1</text><text class="tc" x="1166" y="892">0</text><text class="tc" x="1202" y="892">1</text>
<text class="ts" x="1064" y="914">SB_1</text><text class="tc" x="1131" y="914">1</text><text class="tc" x="1166" y="914">0</text><text class="tc" x="1202" y="914">1</text>
<text class="ts" x="1064" y="936">SB_2</text><text class="tc" x="1131" y="936">1</text><text class="tc" x="1166" y="936">1</text><text class="tc" x="1202" y="936">1</text>
</g>
</g>

<!-- ================= PANEL 5 ================= -->
<g id="panel5">
<text class="ptl" x="730" y="1063">Current SBox = SB_2</text>
<rect class="fr" x="565.5" y="1067.5" width="320" height="165"/>
<ellipse class="el" cx="609" cy="1098" rx="37" ry="30"/>
<ellipse class="el" cx="599" cy="1176" rx="32" ry="51"/>
<ellipse class="eld" cx="695" cy="1158" rx="52" ry="71"/>
<ellipse class="eld" cx="816" cy="1102" rx="69" ry="32"/>
<ellipse class="el" cx="826" cy="1171" rx="37" ry="30"/>
<g id="p5-B"><rect class="nb" x="579" y="1083" width="51" height="32" rx="3"/><line class="hl" x1="579" y1="1092" x2="630" y2="1092"/><text class="nl" x="604.5" y="1108">B</text></g>
<g id="p5-F"><rect class="nb" x="572" y="1137" width="51" height="32" rx="3"/><line class="hl" x1="572" y1="1146" x2="623" y2="1146"/><text class="nl" x="597.5" y="1162">F</text></g>
<g id="p5-G"><rect class="nb" x="572" y="1182" width="51" height="32" rx="3"/><line class="hl" x1="572" y1="1191" x2="623" y2="1191"/><text class="nl" x="597.5" y="1207">G</text></g>
<g id="p5-SB0"><rect class="no" x="669" y="1102" width="51" height="32" rx="3"/><line class="hl" x1="669" y1="1111" x2="720" y2="1111"/><text class="nls" x="694.5" y="1127">SB_0</text></g>
<g id="p5-A"><rect class="nb" x="662" y="1140" width="51" height="32" rx="3"/><line class="hl" x1="662" y1="1149" x2="713" y2="1149"/><text class="nl" x="687.5" y="1165">A</text></g>
<g id="p5-SB1"><rect class="no" x="669" y="1179" width="51" height="32" rx="3"/><line class="hl" x1="669" y1="1188" x2="720" y2="1188"/><text class="nls" x="694.5" y="1204">SB_1</text></g>
<g id="p5-E"><rect class="nb" x="758" y="1080" width="51" height="32" rx="3"/><line class="hl" x1="758" y1="1089" x2="809" y2="1089"/><text class="nl" x="783.5" y="1105">E</text></g>
<g id="p5-D"><rect class="nb" x="822" y="1080" width="51" height="32" rx="3"/><line class="hl" x1="822" y1="1089" x2="873" y2="1089"/><text class="nl" x="847.5" y="1105">D</text></g>
<g id="p5-C"><rect class="nb" x="797" y="1160" width="51" height="32" rx="3"/><line class="hl" x1="797" y1="1169" x2="848" y2="1169"/><text class="nl" x="822.5" y="1185">C</text></g>
<text class="sl" x="631" y="1100">S<tspan class="slb" dy="4">1</tspan></text>
<text class="sl" x="818" y="1155">S<tspan class="slb" dy="4">2</tspan></text>
<text class="sl" x="807" y="1122">S<tspan class="slb" dy="4">3</tspan></text>
<text class="sl" x="714" y="1160">S<tspan class="slb" dy="4">4</tspan></text>
<text class="sl" x="582" y="1182">S<tspan class="slb" dy="4">5</tspan></text>
<g id="p5-lrmap">
<rect class="tb" x="565" y="1236" width="157" height="160"/>
<path class="tl" d="M565 1258 H722 M565 1281 H722 M565 1303 H722 M565 1326 H722 M565 1348 H722 M565 1370 H722"/>
<text class="tt" x="643" y="1253">LR_MAP</text>
<text class="tc" x="637" y="1275">α</text><text class="tc" x="672" y="1275">β</text><text class="tc" x="707" y="1275">γ</text>
<text class="ts" x="575" y="1297">S<tspan class="sub" dy="3">1</tspan></text><text class="tc" x="637" y="1297">1</text><text class="tc" x="672" y="1297">0</text><text class="tc" x="707" y="1297">0</text>
<text class="ts" x="575" y="1319">S<tspan class="sub" dy="3">2</tspan></text><text class="tc" x="637" y="1319">1</text><text class="tc" x="672" y="1319">1</text><text class="tc" x="707" y="1319">1</text>
<text class="ts" x="575" y="1342">S<tspan class="sub" dy="3">3</tspan></text><text class="tc" x="637" y="1342">0</text><text class="tc" x="672" y="1342">1</text><text class="tc" x="707" y="1342">0</text>
<text class="ts" x="575" y="1364">S<tspan class="sub" dy="3">4</tspan></text><text class="tc" x="637" y="1364">1</text><text class="tc" x="672" y="1364">0</text><text class="tc" x="707" y="1364">1</text>
<text class="ts" x="575" y="1386">S<tspan class="sub" dy="3">5</tspan></text><text class="tc" x="637" y="1386">1</text><text class="tc" x="672" y="1386">0</text><text class="tc" x="707" y="1386">1</text>
</g>
<g id="p5-sbmap">
<rect class="tb" x="728" y="1236" width="156" height="112"/>
<path class="tl" d="M728 1258 H884 M728 1281 H884 M728 1303 H884 M728 1326 H884"/>
<text class="tt" x="811" y="1253">SB_MAP</text>
<text class="tc" x="800" y="1275">α</text><text class="tc" x="836" y="1275">β</text><text class="tc" x="872" y="1275">γ</text>
<text class="ts" x="733" y="1297">SB_0</text><text class="tc" x="800" y="1297">1</text><text class="tc" x="836" y="1297">0</text><text class="tc" x="872" y="1297">1</text>
<text class="ts" x="733" y="1319">SB_1</text><text class="tc" x="800" y="1319">1</text><text class="tc" x="836" y="1319">0</text><text class="tc" x="872" y="1319">1</text>
<text class="ts" x="733" y="1342">SB_2</text><text class="tc" x="800" y="1342">1</text><text class="tc" x="836" y="1342">1</text><text class="tc" x="872" y="1342">1</text>
</g>
<ellipse class="red" cx="645" cy="1314" rx="82" ry="13"/>
<ellipse class="red" cx="806" cy="1337" rx="83" ry="13"/>
</g>

<!-- ================= PANEL 6 ================= -->
<g id="panel6">
<text class="ptl" x="1057" y="1063">Current SBox = SB_2</text>
<rect class="fr" x="892.5" y="1067.5" width="330" height="165"/>
<ellipse class="el" cx="936" cy="1099" rx="37" ry="30"/>
<ellipse class="el" cx="925" cy="1176" rx="32" ry="51"/>
<ellipse class="eld" cx="1020" cy="1160" rx="52" ry="69"/>
<ellipse class="eld" cx="1142" cy="1102" rx="69" ry="32"/>
<ellipse class="eld" cx="1153" cy="1186" rx="49" ry="46"/>
<g id="p6-B"><rect class="nb" x="906" y="1083" width="51" height="32" rx="3"/><line class="hl" x1="906" y1="1092" x2="957" y2="1092"/><text class="nl" x="931.5" y="1108">B</text></g>
<g id="p6-F"><rect class="nb" x="898" y="1137" width="51" height="32" rx="3"/><line class="hl" x1="898" y1="1146" x2="949" y2="1146"/><text class="nl" x="923.5" y="1162">F</text></g>
<g id="p6-G"><rect class="nb" x="898" y="1182" width="51" height="32" rx="3"/><line class="hl" x1="898" y1="1191" x2="949" y2="1191"/><text class="nl" x="923.5" y="1207">G</text></g>
<g id="p6-SB0"><rect class="no" x="996" y="1102" width="51" height="32" rx="3"/><line class="hl" x1="996" y1="1111" x2="1047" y2="1111"/><text class="nls" x="1021.5" y="1127">SB_0</text></g>
<g id="p6-A"><rect class="nb" x="988" y="1140" width="51" height="32" rx="3"/><line class="hl" x1="988" y1="1149" x2="1039" y2="1149"/><text class="nl" x="1013.5" y="1165">A</text></g>
<g id="p6-SB1"><rect class="no" x="996" y="1179" width="51" height="32" rx="3"/><line class="hl" x1="996" y1="1188" x2="1047" y2="1188"/><text class="nls" x="1021.5" y="1204">SB_1</text></g>
<g id="p6-E"><rect class="nb" x="1084" y="1080" width="51" height="32" rx="3"/><line class="hl" x1="1084" y1="1089" x2="1135" y2="1089"/><text class="nl" x="1109.5" y="1105">E</text></g>
<g id="p6-D"><rect class="nb" x="1148" y="1080" width="51" height="32" rx="3"/><line class="hl" x1="1148" y1="1089" x2="1199" y2="1089"/><text class="nl" x="1173.5" y="1105">D</text></g>
<g id="p6-C"><rect class="nb" x="1124" y="1151" width="51" height="32" rx="3"/><line class="hl" x1="1124" y1="1160" x2="1175" y2="1160"/><text class="nl" x="1149.5" y="1176">C</text></g>
<g id="p6-SB2"><rect class="no" x="1132" y="1189" width="51" height="32" rx="3"/><line class="hl" x1="1132" y1="1198" x2="1183" y2="1198"/><text class="nls" x="1157.5" y="1214">SB_2</text></g>
<text class="sl" x="958" y="1100">S<tspan class="slb" dy="4">1</tspan></text>
<text class="sl" x="1178" y="1187">S<tspan class="slb" dy="4">2</tspan></text>
<text class="sl" x="1134" y="1122">S<tspan class="slb" dy="4">3</tspan></text>
<text class="sl" x="1040" y="1160">S<tspan class="slb" dy="4">4</tspan></text>
<text class="sl" x="908" y="1182">S<tspan class="slb" dy="4">5</tspan></text>
<g id="p6-lrmap">
<rect class="tb" x="892" y="1236" width="156" height="160"/>
<path class="tl" d="M892 1258 H1048 M892 1281 H1048 M892 1303 H1048 M892 1326 H1048 M892 1348 H1048 M892 1370 H1048"/>
<text class="tt" x="970" y="1253">LR_MAP</text>
<text class="tc" x="964" y="1275">α</text><text class="tc" x="999" y="1275">β</text><text class="tc" x="1034" y="1275">γ</text>
<text class="ts" x="902" y="1297">S<tspan class="sub" dy="3">1</tspan></text><text class="tc" x="964" y="1297">1</text><text class="tc" x="999" y="1297">0</text><text class="tc" x="1034" y="1297">0</text>
<text class="ts" x="902" y="1319">S<tspan class="sub" dy="3">2</tspan></text><text class="tc" x="964" y="1319">1</text><text class="tc" x="999" y="1319">1</text><text class="tc" x="1034" y="1319">1</text>
<text class="ts" x="902" y="1342">S<tspan class="sub" dy="3">3</tspan></text><text class="tc" x="964" y="1342">0</text><text class="tc" x="999" y="1342">1</text><text class="tc" x="1034" y="1342">0</text>
<text class="ts" x="902" y="1364">S<tspan class="sub" dy="3">4</tspan></text><text class="tc" x="964" y="1364">1</text><text class="tc" x="999" y="1364">0</text><text class="tc" x="1034" y="1364">1</text>
<text class="ts" x="902" y="1386">S<tspan class="sub" dy="3">5</tspan></text><text class="tc" x="964" y="1386">1</text><text class="tc" x="999" y="1386">0</text><text class="tc" x="1034" y="1386">1</text>
</g>
<g id="p6-sbmap">
<rect class="tb" x="1054" y="1236" width="157" height="112"/>
<path class="tl" d="M1054 1258 H1211 M1054 1281 H1211 M1054 1303 H1211 M1054 1326 H1211"/>
<text class="tt" x="1137" y="1253">SB_MAP</text>
<text class="tc" x="1126" y="1275">α</text><text class="tc" x="1162" y="1275">β</text><text class="tc" x="1198" y="1275">γ</text>
<text class="ts" x="1059" y="1297">SB_0</text><text class="tc" x="1126" y="1297">1</text><text class="tc" x="1162" y="1297">0</text><text class="tc" x="1198" y="1297">1</text>
<text class="ts" x="1059" y="1319">SB_1</text><text class="tc" x="1126" y="1319">1</text><text class="tc" x="1162" y="1319">0</text><text class="tc" x="1198" y="1319">1</text>
<text class="ts" x="1059" y="1342">SB_2</text><text class="tc" x="1126" y="1342">1</text><text class="tc" x="1162" y="1342">1</text><text class="tc" x="1198" y="1342">1</text>
</g>
</g>

<!-- ================= RESULTING OUTPUT ================= -->
<g id="result-output">
<line x1="510" y1="1050" x2="510" y2="1387" stroke="#000" stroke-width="1.5"/>
<polygon points="471,1085 500,1068 500,1081 538,1081 538,1089 500,1089 500,1102" fill="#000"/>
<rect x="491" y="1120" width="41" height="173" rx="9" fill="#e6e6e6" stroke="#333" stroke-width="1.2"/>
<text transform="translate(517 1207) rotate(-90)" font-size="14" text-anchor="middle">Resulting Output</text>
</g>

<!-- ================= BOTTOM CIRCUIT ================= -->
<g id="bottom-circuit">
<rect class="fr" x="7.5" y="1115.5" width="464.5" height="236" rx="3"/>
<ellipse class="eld" cx="91" cy="1182" rx="78" ry="36"/>
<ellipse class="eld" cx="207" cy="1155" rx="45" ry="38"/>
<ellipse class="eld" cx="294" cy="1183" rx="44" ry="32"/>
<ellipse class="eld" cx="170" cy="1226" rx="88" ry="30" transform="rotate(-15 170 1226)"/>
<ellipse class="eld" cx="374" cy="1243" rx="84" ry="36"/>
<ellipse class="eld" cx="93" cy="1311" rx="83" ry="32"/>
<g id="bottom-connectors">
<path class="w" d="M89 1187 H97 M157 1181 H162 V1163 H177 M157 1195 H162 V1213 H177 M154 1246 H162 V1224 H177 M238 1163 H241 V1182 H257 M238 1217 H241 V1193 H257 M318 1187 H330 V1208 H287 V1241 H307 M166 1310 H287 V1253 H307 M368 1243 H379 M89 1310 H105 M28 1187 H18 M93 1246 H83 M28 1310 H18 M441 1245 H448"/>
<polygon class="io" points="18,1184 18,1190 12,1187"/>
<polygon class="io" points="83,1243 83,1249 77,1246"/>
<polygon class="io" points="18,1307 18,1313 12,1310"/>
<polygon class="io" points="448,1242 448,1248 455,1245"/>
<text class="iot" x="10" y="1181">in1</text>
<text class="iot" x="73" y="1260">in3</text>
<text class="iot" x="10" y="1304">in2</text>
<text class="iot" x="443" y="1239">out1</text>
</g>
<g id="b-A"><rect class="nb" x="28" y="1166" width="61" height="37" rx="3"/><line class="hl" x1="28" y1="1177" x2="89" y2="1177"/><text class="nbig" x="58.5" y="1198">A</text></g>
<g id="b-SB0"><rect class="no" x="97" y="1166" width="60" height="37" rx="3"/><line class="hl" x1="97" y1="1177" x2="157" y2="1177"/><text class="nbig" x="127.5" y="1196" font-size="18">SB_0</text></g>
<g id="b-B"><rect class="nb" x="177" y="1143" width="61" height="38" rx="3"/><line class="hl" x1="177" y1="1154" x2="238" y2="1154"/><text class="nbig" x="207.5" y="1175">B</text></g>
<g id="b-SB1"><rect class="no" x="257" y="1166" width="61" height="37" rx="3"/><line class="hl" x1="257" y1="1177" x2="318" y2="1177"/><text class="nbig" x="287.5" y="1196" font-size="18">SB_1</text></g>
<g id="b-G"><rect class="nb" x="177" y="1196" width="61" height="37" rx="3"/><line class="hl" x1="177" y1="1207" x2="238" y2="1207"/><text class="nbig" x="207.5" y="1228">G</text></g>
<g id="b-F"><rect class="nb" x="93" y="1226" width="61" height="37" rx="3"/><line class="hl" x1="93" y1="1237" x2="154" y2="1237"/><text class="nbig" x="123.5" y="1258">F</text></g>
<g id="b-SB2"><rect class="no" x="307" y="1224" width="61" height="38" rx="3"/><line class="hl" x1="307" y1="1235" x2="368" y2="1235"/><text class="nbig" x="337.5" y="1254" font-size="18">SB_2</text></g>
<g id="b-C"><rect class="nb" x="379" y="1224" width="62" height="38" rx="3"/><line class="hl" x1="379" y1="1235" x2="441" y2="1235"/><text class="nbig" x="410" y="1256">C</text></g>
<g id="b-D"><rect class="nb" x="28" y="1290" width="61" height="37" rx="3"/><line class="hl" x1="28" y1="1301" x2="89" y2="1301"/><text class="nbig" x="58.5" y="1322">D</text></g>
<g id="b-E"><rect class="nb" x="105" y="1290" width="61" height="37" rx="3"/><line class="hl" x1="105" y1="1301" x2="166" y2="1301"/><text class="nbig" x="135.5" y="1322">E</text></g>
<g id="b-ports">
<rect class="pp" x="26" y="1185" width="4" height="4"/><rect class="pp" x="87" y="1185" width="4" height="4"/><rect class="pp" x="95" y="1185" width="4" height="4"/>
<rect class="pp" x="155" y="1179" width="4" height="4"/><rect class="pp" x="155" y="1193" width="4" height="4"/>
<rect class="pp" x="175" y="1161" width="4" height="4"/><rect class="pp" x="236" y="1161" width="4" height="4"/>
<rect class="pp" x="175" y="1211" width="4" height="4"/><rect class="pp" x="175" y="1222" width="4" height="4"/><rect class="pp" x="236" y="1215" width="4" height="4"/>
<rect class="pp" x="91" y="1244" width="4" height="4"/><rect class="pp" x="152" y="1244" width="4" height="4"/>
<rect class="pp" x="255" y="1180" width="4" height="4"/><rect class="pp" x="255" y="1191" width="4" height="4"/><rect class="pp" x="316" y="1185" width="4" height="4"/>
<rect class="pp" x="305" y="1239" width="4" height="4"/><rect class="pp" x="305" y="1251" width="4" height="4"/><rect class="pp" x="366" y="1241" width="4" height="4"/>
<rect class="pp" x="377" y="1241" width="4" height="4"/><rect class="pp" x="439" y="1243" width="4" height="4"/>
<rect class="pp" x="26" y="1308" width="4" height="4"/><rect class="pp" x="87" y="1308" width="4" height="4"/><rect class="pp" x="103" y="1308" width="4" height="4"/><rect class="pp" x="164" y="1308" width="4" height="4"/>
</g>
<text class="lrb" x="56" y="1148">LR4</text>
<text class="lrb" x="207" y="1140">LR1</text>
<text class="lrb" x="294" y="1163">LR4</text>
<text class="lrb" x="187" y="1258">LR5</text>
<text class="lrb" x="411" y="1220">LR2</text>
<text class="lrb" x="96" y="1346">LR3</text>
</g>
</svg>
